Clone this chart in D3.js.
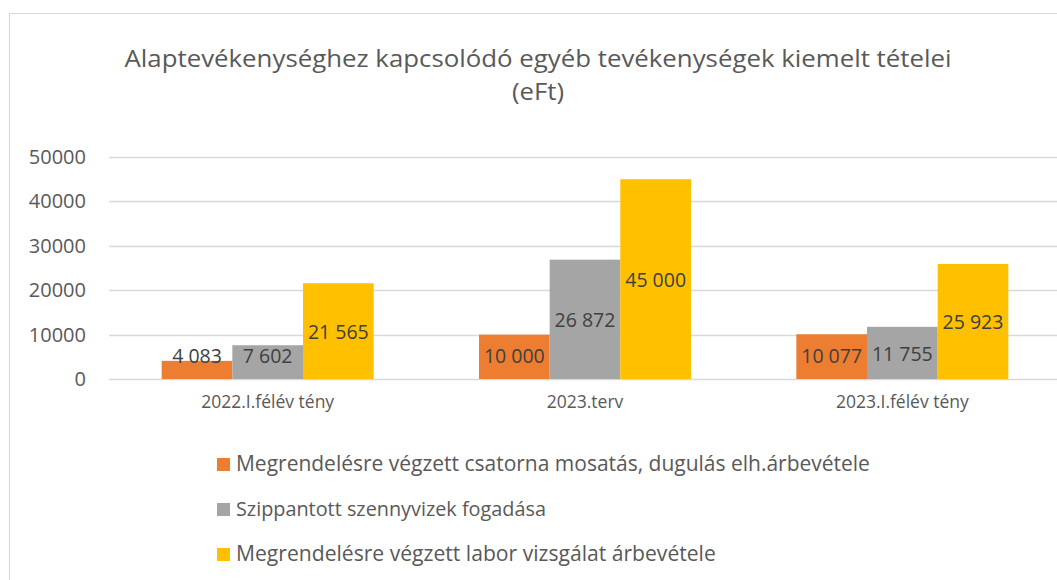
<!DOCTYPE html>
<html>
<head>
<meta charset="utf-8">
<script src="https://cdn.jsdelivr.net/npm/d3@7"></script>
<style>
  body { margin: 0; background: #fff; }
  svg { display: block; font-family: 'Open Sans', 'Noto Sans', sans-serif; }
</style>
</head>
<body>
<script>
const WIDTH = 1057;
const HEIGHT = 580;

// data
var categories = ['2022.I.félév tény', '2023.terv', '2023.I.félév tény'];
var seriesNames = [
    'Megrendelésre végzett csatorna mosatás, dugulás elh.árbevétele',
    'Szippantott szennyvizek fogadása',
    'Megrendelésre végzett labor vizsgálat árbevétele'
];
var csatorna = [4083, 10000, 10077];
var szippantott = [7602, 26872, 11755];
var labor = [21565, 45000, 25923];
var yTicks = [0, 10000, 20000, 30000, 40000, 50000];
var colors = ['#ED7D31', '#A5A5A5', '#FFC000'];

var series = [csatorna, szippantott, labor];

var svg = d3.select('body')
    .append('svg')
    .attr('width', WIDTH)
    .attr('height', HEIGHT);

// chart border
svg.append('rect')
    .attr('x', 9.5)
    .attr('y', 13.5)
    .attr('width', WIDTH + 20)
    .attr('height', HEIGHT + 20)
    .attr('fill', '#fff')
    .attr('stroke', '#d9d9d9');

// fit text to a width by changing font size
function fit(sel, target) {
    sel.each(function() {
        var fs = parseFloat(d3.select(this).attr('font-size'));
        var w = this.getComputedTextLength();
        d3.select(this).attr('font-size', (fs * target / w).toFixed(2));
    });
}

// title (Calibri-like: a bit taller than wide)
var title = svg.append('g');
title.append('text')
    .attr('x', 538)
    .attr('y', 67)
    .attr('text-anchor', 'middle')
    .attr('font-size', 23.5)
    .attr('fill', '#595959')
    .attr('textLength', 827)
    .attr('lengthAdjust', 'spacingAndGlyphs')
    .text('Alaptevékenységhez kapcsolódó egyéb tevékenységek kiemelt tételei');
title.append('text')
    .attr('x', 538)
    .attr('y', 100)
    .attr('text-anchor', 'middle')
    .attr('font-size', 23.5)
    .attr('fill', '#595959')
    .attr('textLength', 52)
    .attr('lengthAdjust', 'spacingAndGlyphs')
    .text('(eFt)');

var x0 = d3.scaleBand()
    .domain(categories)
    .range([109, 1061])
    .paddingInner(0.332)
    .paddingOuter(0.166);

var x1 = d3.scaleBand()
    .domain([0, 1, 2])
    .range([0, x0.bandwidth()]);

var y = d3.scaleLinear()
    .domain([0, 50000])
    .range([379, 157]);

// gridlines
svg.append('g')
    .selectAll('line')
    .data(yTicks)
    .enter()
    .append('line')
    .attr('x1', 109)
    .attr('x2', 1061)
    .attr('y1', function(d) { return Math.round(y(d)) + 0.5; })
    .attr('y2', function(d) { return Math.round(y(d)) + 0.5; })
    .attr('stroke', '#d9d9d9')
    .attr('stroke-width', 1.3);

// y axis labels
var yAxis = svg.append('g')
    .attr('transform', 'translate(86,0)')
    .call(d3.axisLeft(y).tickValues(yTicks).tickFormat(d3.format('d')).tickSize(0).tickPadding(0));
yAxis.select('.domain').remove();
yAxis.selectAll('text')
    .attr('font-size', 20)
    .attr('font-family', "'Open Sans', sans-serif")
    .attr('fill', '#595959');

// x axis labels
var xAxis = svg.append('g')
    .attr('transform', 'translate(0,' + 396 + ')')
    .call(d3.axisBottom(x0).tickSize(0).tickPadding(0));
xAxis.select('.domain').remove();
xAxis.selectAll('text')
    .attr('font-size', 17.5)
    .attr('font-family', "'Open Sans', sans-serif")
    .attr('fill', '#595959');

// bars
var groups = svg.append('g')
    .selectAll('g')
    .data(categories)
    .enter()
    .append('g')
    .attr('transform', function(d) { return 'translate(' + x0(d) + ',0)'; });

var fmt = function(v) { return d3.format(',')(v).replace(/,/g, ' '); };

groups.selectAll('rect')
    .data(function(d, i) { return series.map(function(s, k) { return { k: k, v: s[i] }; }); })
    .enter()
    .append('rect')
    .attr('x', function(d) { return x1(d.k); })
    .attr('y', function(d) { return y(d.v); })
    .attr('width', x1.bandwidth())
    .attr('height', function(d) { return y(0) - y(d.v); })
    .attr('fill', function(d) { return colors[d.k]; });

groups.selectAll('text')
    .data(function(d, i) { return series.map(function(s, k) { return { k: k, v: s[i] }; }); })
    .enter()
    .append('text')
    .attr('x', function(d) { return x1(d.k) + x1.bandwidth() / 2; })
    .attr('y', function(d) { return Math.min((y(d.v) + y(0)) / 2, y(5300)) + 8; })
    .attr('text-anchor', 'middle')
    .attr('font-size', 19.5)
    .attr('fill', '#404040')
    .text(function(d) { return fmt(d.v); });

// legend
var legend = svg.append('g')
    .selectAll('g')
    .data(seriesNames)
    .enter()
    .append('g')
    .attr('transform', function(d, i) { return 'translate(217,' + (458 + i * 45) + ')'; });

legend.append('rect')
    .attr('width', 13)
    .attr('height', 13)
    .attr('fill', function(d, i) { return colors[i]; });

legend.append('text')
    .attr('x', 19)
    .attr('y', 13)
    .attr('font-size', 17.5)
    .attr('fill', '#595959')
    .text(function(d) { return d; })
    .each(function(d, i) {
        var targets = [634, 310, 480];
        d3.select(this).call(fit, targets[i]);
    });
</script>
</body>
</html>
